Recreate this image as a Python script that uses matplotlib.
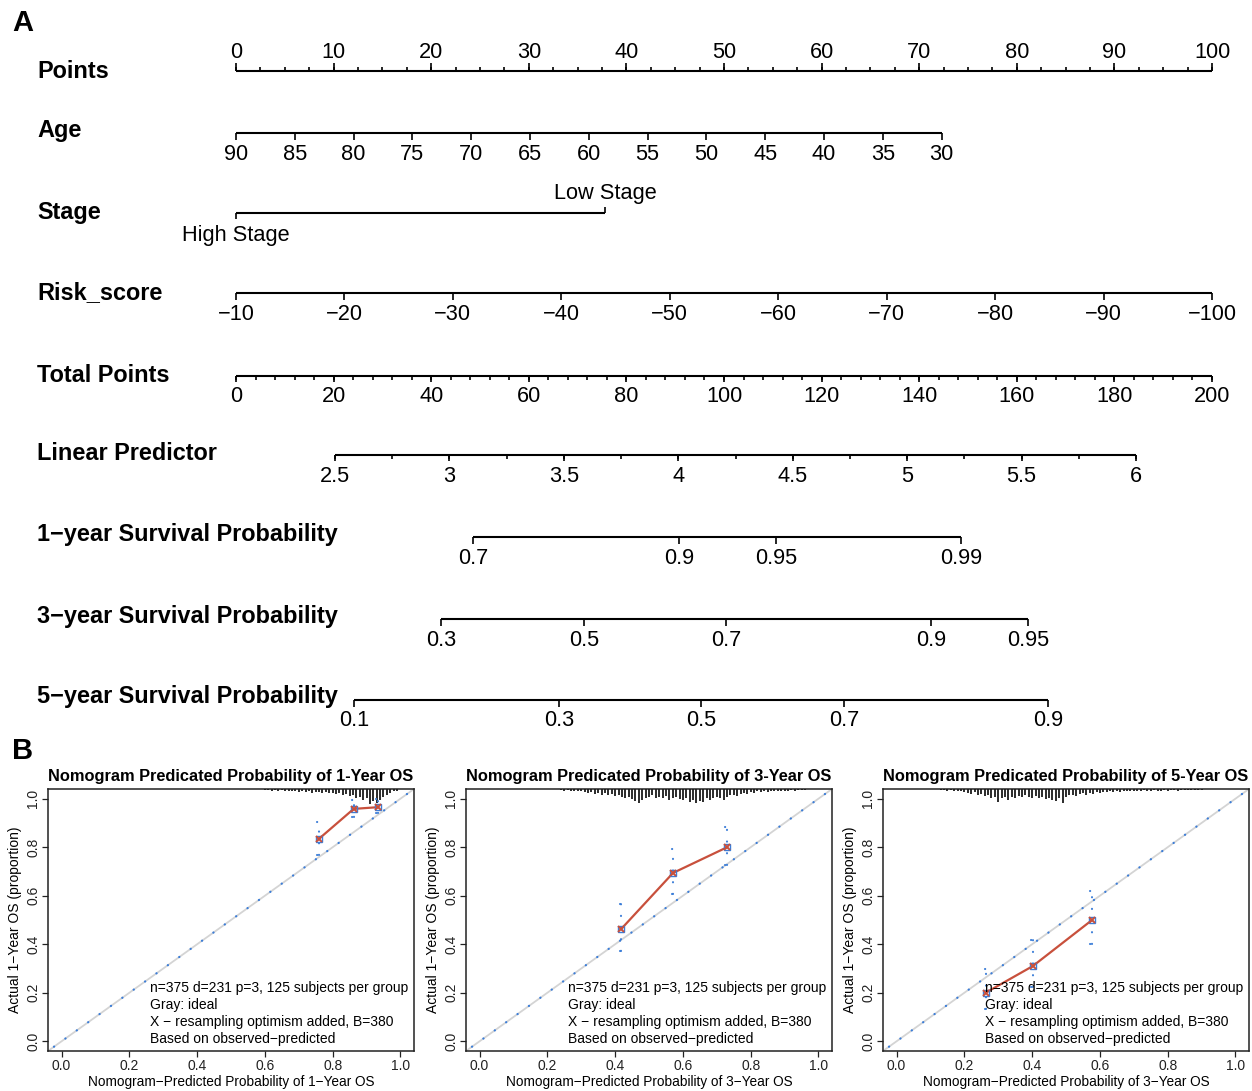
import matplotlib
matplotlib.use('Agg')
import matplotlib.pyplot as plt
import matplotlib.transforms as mtransforms
import numpy as np

plt.rcParams['font.family'] = ['Liberation Sans', 'DejaVu Sans']

# ---------------- data ----------------
points_ticks = [0, 10, 20, 30, 40, 50, 60, 70, 80, 90, 100]
age_ticks = [90, 85, 80, 75, 70, 65, 60, 55, 50, 45, 40, 35, 30]
age_points_at_30 = 72.3          # points given to age 30 (age 90 -> 0)
stage_levels = ['High Stage', 'Low Stage']
stage_points = [0.0, 37.8]
risk_ticks = [-10, -20, -30, -40, -50, -60, -70, -80, -90, -100]
total_ticks = [0, 20, 40, 60, 80, 100, 120, 140, 160, 180, 200]
lp_ticks = [2.5, 3, 3.5, 4, 4.5, 5, 5.5, 6]
lp_total_at_2_5 = 20.3
lp_total_per_unit = 46.89
surv1_labels = ['0.7', '0.9', '0.95', '0.99']
surv1_total = [48.6, 90.8, 110.7, 148.6]
surv3_labels = ['0.3', '0.5', '0.7', '0.9', '0.95']
surv3_total = [42.0, 71.3, 100.4, 142.4, 162.3]
surv5_labels = ['0.1', '0.3', '0.5', '0.7', '0.9']
surv5_total = [24.2, 66.2, 95.3, 124.6, 166.4]

# calibration data
cal_titles = ['Nomogram Predicated Probability of 1-Year OS',
              'Nomogram Predicated Probability of 3-Year OS',
              'Nomogram Predicated Probability of 5-Year OS']
cal_xlabels = ['Nomogram\u2212Predicted Probability of 1\u2212Year OS',
               'Nomogram\u2212Predicted Probability of 3\u2212Year OS',
               'Nomogram\u2212Predicted Probability of 3\u2212Year OS']
cal_ylabel = 'Actual 1\u2212Year OS (proportion)'
cal1_pred = [0.759, 0.862, 0.933]
cal1_obs = [0.834, 0.958, 0.965]
cal1_lo = [0.767, 0.924, 0.940]
cal1_hi = [0.906, 0.996, 1.000]
cal3_pred = [0.418, 0.571, 0.729]
cal3_obs = [0.463, 0.694, 0.799]
cal3_lo = [0.374, 0.608, 0.727]
cal3_hi = [0.568, 0.792, 0.885]
cal5_pred = [0.264, 0.402, 0.576]
cal5_obs = [0.201, 0.310, 0.499]
cal5_lo = [0.134, 0.222, 0.403]
cal5_hi = [0.300, 0.417, 0.618]
cal_notes = ['n=375 d=231 p=3, 125 subjects per group',
             'Gray: ideal',
             'X \u2212 resampling optimism added, B=380',
             'Based on observed\u2212predicted']

# spike histogram of predicted risks (spike lengths, hanging from top)
spike1_start = 0.60
spike1_h = [0.005, 0.004, 0.007, 0.005, 0.008, 0.005, 0.009, 0.007, 0.010, 0.008,
            0.012, 0.009, 0.013, 0.010, 0.016, 0.012, 0.014, 0.017, 0.013, 0.018,
            0.016, 0.021, 0.017, 0.023, 0.020, 0.029, 0.025, 0.036, 0.031, 0.045,
            0.039, 0.060, 0.050, 0.056, 0.045, 0.033, 0.023, 0.016, 0.010, 0.007]
spike3_start = 0.24
spike3_h = [0.004, 0.007, 0.005, 0.008, 0.007, 0.010,
            0.009, 0.013, 0.016, 0.012, 0.020, 0.016, 0.023, 0.018, 0.026, 0.021,
            0.029, 0.023, 0.032, 0.036, 0.031, 0.042, 0.049, 0.058, 0.045, 0.039,
            0.034, 0.026, 0.036, 0.031, 0.039, 0.029, 0.044, 0.036, 0.032, 0.042,
            0.047, 0.039, 0.052, 0.044, 0.058, 0.049, 0.055, 0.039, 0.047, 0.036,
            0.031, 0.039, 0.045, 0.034, 0.026, 0.023, 0.029, 0.020, 0.016, 0.021,
            0.013, 0.016, 0.010, 0.013, 0.009, 0.012, 0.008, 0.010, 0.007, 0.009,
            0.007, 0.008, 0.005, 0.007, 0.005, 0.004, 0.005]
spike5_start = 0.13
spike5_h = [0.004, 0.005, 0.007, 0.005, 0.008, 0.009, 0.010,
            0.013, 0.016, 0.020, 0.014, 0.023, 0.021, 0.029, 0.026, 0.036, 0.032,
            0.052, 0.039, 0.034, 0.044, 0.031, 0.039, 0.029, 0.034, 0.026, 0.031,
            0.036, 0.029, 0.039, 0.032, 0.042, 0.036, 0.045, 0.049, 0.039, 0.058,
            0.034, 0.026, 0.023, 0.029, 0.021, 0.018, 0.023, 0.016, 0.020, 0.013,
            0.016, 0.012, 0.014, 0.010, 0.013, 0.009, 0.012, 0.008, 0.010, 0.008,
            0.009, 0.007, 0.008, 0.005, 0.008, 0.007, 0.005, 0.008, 0.007, 0.005,
            0.007, 0.005, 0.004, 0.007, 0.005, 0.004, 0.005, 0.004, 0.005, 0.004, 0.005]

# ---------------- figure ----------------
W, H = 1252, 1091
DPI = 100
fig = plt.figure(figsize=(W / DPI, H / DPI), dpi=DPI)

LW = 1.5
TICKFS = 15.7
LABFS = 16.9

ax = fig.add_axes([236 / W, 1 - 740 / H, 976 / W, 740 / H])
ax.set_xlim(0, 100)
ax.set_ylim(740, 0)
ax.axis('off')
trans_lab = mtransforms.blended_transform_factory(fig.transFigure, ax.transData)


def axis_line(y, positions):
    ax.plot([min(positions), max(positions)], [y, y], color='black', lw=LW,
            solid_capstyle='butt', clip_on=False)


def tick_marks(y, positions, length, direction):
    ax.vlines(positions, y, y + direction * length, color='black', lw=1.2, clip_on=False)


def tick_labels(y, positions, labels):
    for p, s in zip(positions, labels):
        ax.text(p, y, s, ha='center', va='center', fontsize=TICKFS, clip_on=False)


def row_label(y, s):
    ax.text(37 / W, y, s, transform=trans_lab, ha='left', va='center',
            fontsize=LABFS, fontweight='bold')


def fmt(v):
    return str(v).replace('-', '\u2212')


def total_to_points(t):
    return np.asarray(t, dtype=float) / 2.0


# Points
pp = np.array(points_ticks, dtype=float)
minor_pts = np.arange(0, 100.01, 2.5)
axis_line(71, pp)
tick_marks(71, minor_pts, 4, -1)
tick_marks(71, pp, 8, -1)
tick_labels(52, pp, [fmt(v) for v in points_ticks])
row_label(72, 'Points')

# Age
age_p = (90 - np.array(age_ticks, dtype=float)) / 60.0 * age_points_at_30
axis_line(133, age_p)
tick_marks(133, age_p, 7, 1)
tick_labels(155, age_p, [fmt(v) for v in age_ticks])
row_label(131, 'Age')

# Stage
axis_line(213, stage_points)
tick_marks(213, [stage_points[0]], 6, 1)
tick_marks(213, [stage_points[1]], 6, -1)
ax.text(stage_points[0], 236, stage_levels[0], ha='center', va='center', fontsize=TICKFS)
ax.text(stage_points[1], 194, stage_levels[1], ha='center', va='center', fontsize=TICKFS)
row_label(213, 'Stage')

# Risk score
risk_p = (-10 - np.array(risk_ticks, dtype=float)) / 90.0 * 100.0
axis_line(293, risk_p)
tick_marks(293, risk_p, 7, 1)
tick_labels(315, risk_p, [fmt(v) for v in risk_ticks])
row_label(293, 'Risk_score')

# Total points
tot_p = total_to_points(total_ticks)
tot_minor = total_to_points(np.arange(0, 200.01, 4))
axis_line(376, tot_p)
tick_marks(376, tot_minor, 4, 1)
tick_marks(376, tot_p, 6, 1)
tick_labels(397, tot_p, [fmt(v) for v in total_ticks])
row_label(375, 'Total Points')

# Linear predictor
lp = np.array(lp_ticks, dtype=float)
lp_p = total_to_points(lp_total_at_2_5 + (lp - 2.5) * lp_total_per_unit)
lp_minor = np.arange(2.5, 6.001, 0.25)
lp_minor_p = total_to_points(lp_total_at_2_5 + (lp_minor - 2.5) * lp_total_per_unit)
axis_line(455, lp_p)
tick_marks(455, lp_minor_p, 3.5, 1)
tick_marks(455, lp_p, 5.5, 1)
tick_labels(477, lp_p, [('%g' % v) for v in lp_ticks])
row_label(454, 'Linear Predictor')

# survival probabilities
for yl, ylab, labs, tots, name in [
        (537, 558, surv1_labels, surv1_total, '1\u2212year Survival Probability'),
        (619, 640, surv3_labels, surv3_total, '3\u2212year Survival Probability'),
        (700, 720, surv5_labels, surv5_total, '5\u2212year Survival Probability')]:
    sp = total_to_points(tots)
    axis_line(yl, sp)
    tick_marks(yl, sp, 7, 1)
    tick_labels(ylab, sp, labs)
    row_label(yl - 3, name)

fig.text(12 / W, 1 - 23 / H, 'A', fontsize=21, fontweight='bold', ha='left', va='center')
fig.text(12 / W, 1 - 751 / H, 'B', fontsize=21, fontweight='bold', ha='left', va='center')

# ---------------- calibration panels ----------------
lefts = [48, 466, 883]
cal_sets = [(cal1_pred, cal1_obs, cal1_lo, cal1_hi, spike1_start, spike1_h),
            (cal3_pred, cal3_obs, cal3_lo, cal3_hi, spike3_start, spike3_h),
            (cal5_pred, cal5_obs, cal5_lo, cal5_hi, spike5_start, spike5_h)]
BLUE = '#3b7dd8'
RED = '#c8503c'
for i, (lx, (pr, ob, lo, hi, s0, sh)) in enumerate(zip(lefts, cal_sets)):
    cax = fig.add_axes([lx / W, 1 - 1051 / H, 366 / W, 262 / H])
    cax.set_xlim(-0.04, 1.04)
    cax.set_ylim(-0.04, 1.04)
    # ideal line
    cax.plot([-0.04, 1.04], [-0.04, 1.04], color='#d4d4d4', lw=1.3, zorder=1)
    cax.plot([-0.04, 1.04], [-0.04, 1.04], color=BLUE, lw=1.6,
             linestyle=(3, (0.1, 6.2)), dash_capstyle='round', zorder=2)
    # spikes
    sx = np.round(s0 + 0.01 * np.arange(len(sh)), 3)
    cax.vlines(sx, 1.04 - np.array(sh), 1.04, color='#1a1a1a', lw=1.3, zorder=3)
    # error bars (dotted)
    for x, l, h in zip(pr, lo, hi):
        cax.plot([x, x], [l, h], color=BLUE, lw=1.5, linestyle=(0, (0.1, 5.5)),
                 dash_capstyle='round', zorder=3)
        for yy in (l, h):
            cax.plot([x - 0.004, x + 0.004], [yy, yy], color=BLUE, lw=1.5,
                     linestyle=(0, (0.1, 1.8)), dash_capstyle='round', zorder=3)
    # observed line
    cax.plot(pr, ob, color=RED, lw=1.6, zorder=4)
    cax.plot(pr, ob, linestyle='none', marker='s', ms=5, mfc='none', mec=BLUE,
             mew=1.0, zorder=5)
    cax.plot(pr, ob, linestyle='none', marker='x', ms=5, mec=RED, mew=1.4, zorder=6)
    # notes
    for k, note in enumerate(cal_notes):
        cax.text(0.262, 0.22 - 0.07 * k, note, fontsize=10, ha='left', va='center',
                 zorder=7)
    ticks = [0.0, 0.2, 0.4, 0.6, 0.8, 1.0]
    cax.set_xticks(ticks)
    cax.set_yticks(ticks)
    cax.set_xticklabels(['%.1f' % t for t in ticks], fontsize=10)
    cax.set_yticklabels(['%.1f' % t for t in ticks], fontsize=10, rotation=90,
                        va='center')
    cax.tick_params(length=4, width=0.9, direction='out', pad=1.5, colors='#222222')
    for sp_ in cax.spines.values():
        sp_.set_linewidth(1.1)
        sp_.set_color('#222222')
    cax.set_title(cal_titles[i], fontsize=11.8, fontweight='bold', pad=6)
    cax.set_xlabel(cal_xlabels[i], fontsize=9.8, labelpad=1.5)
    cax.set_ylabel(cal_ylabel, fontsize=10, labelpad=3)

fig.savefig('out.png', dpi=DPI)
